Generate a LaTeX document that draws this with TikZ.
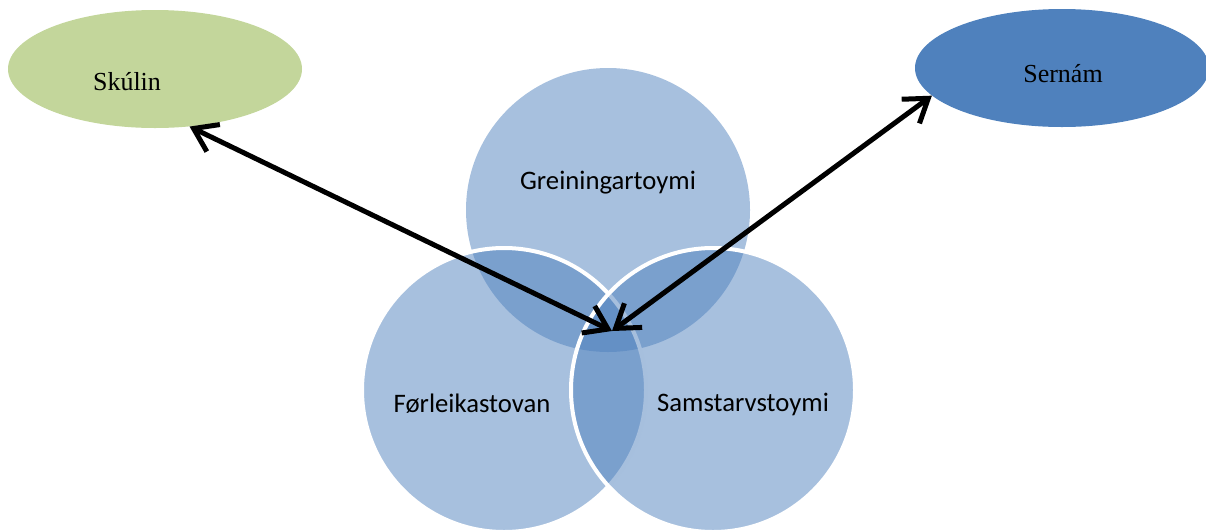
\documentclass[tikz,border=0pt]{standalone}
\usepackage{fontspec}
\setmainfont{Liberation Serif}
\newfontfamily\calibri{Carlito}
\usetikzlibrary{shapes.geometric,arrows.meta}
\definecolor{setgreen}{HTML}{C3D69B}
\definecolor{setblue}{HTML}{4F81BD}

\begin{document}
\begin{tikzpicture}[x=1pt,y=-1pt]
    \tikzset{
        myellipse/.style={
            ellipse, minimum width=294pt, minimum height=118pt, inner sep=0pt,
        },
        mycircle/.style={
            circle, minimum size=284pt, inner sep=0pt,
            fill=setblue, fill opacity=0.5,
        },
        mycircleborder/.style={
            mycircle, draw=white, line width=4pt,
        },
        serifname/.style={
            font=\fontsize{26}{30}\selectfont, text=black, text opacity=1,
        },
        sansname/.style={
            font=\calibri\fontsize{26.7}{32}\selectfont, text=black, text opacity=1,
        },
        myarrow/.style={
            {Straight Barb[length=22pt,width=30pt]}-{Straight Barb[length=22pt,width=30pt]},
            line width=5pt,
        },
    }
    \useasboundingbox (0,0) rectangle (1206,531);

    % Ellipses
    \node[myellipse, fill=setgreen,
        label={[serifname, xshift=-28pt, yshift=-13pt]center:Skúlin}] (skulin) at (155,69) {};
    \node[myellipse, fill=setblue,
        label={[serifname, xshift=1pt, yshift=-6pt]center:Sernám}] (sernam) at (1062,68) {};

    % Circles
    \node[mycircle,
        label={[sansname, yshift=27pt]center:Greiningartoymi}] (greining) at (608,210) {};
    \node[mycircleborder,
        label={[sansname, xshift=-32pt, yshift=-14pt]center:Førleikastovan}] (forleiki) at (504,390) {};
    \node[mycircleborder,
        label={[sansname, xshift=30pt, yshift=-14pt]center:Samstarvstoymi}] (samstarv) at (713,390) {};

    % Arrows
    \coordinate (hub) at (612,331);
    \draw[myarrow] (skulin.-59) -- (hub);
    \draw[myarrow] (sernam.192) -- (hub);

\end{tikzpicture}
\end{document}
